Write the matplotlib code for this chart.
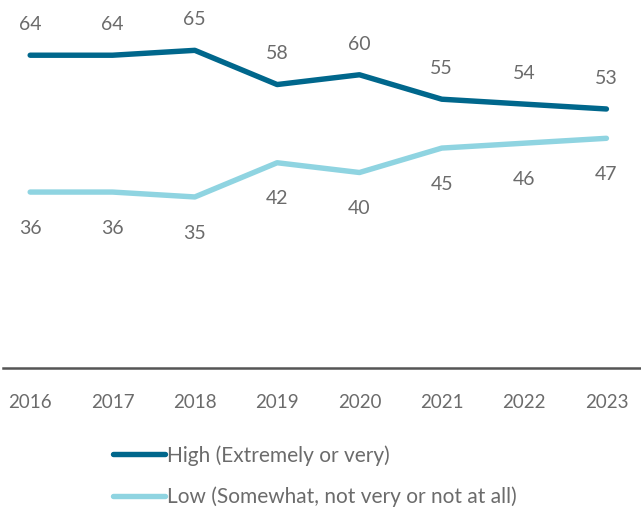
import matplotlib.pyplot as plt

years = [2016, 2017, 2018, 2019, 2020, 2021, 2022, 2023]
high = [64, 64, 65, 58, 60, 55, 54, 53]
low = [36, 36, 35, 42, 40, 45, 46, 47]
high_label = 'High (Extremely or very)'
low_label = 'Low (Somewhat, not very or not at all)'

dark = '#00678c'
light = '#8fd4e1'
grey = '#6b6b6b'

plt.rcParams['font.family'] = ['Lato', 'DejaVu Sans']

fig = plt.figure(figsize=(6.41, 5.13), dpi=100)
ax = fig.add_axes([3 / 641, 145 / 513, 638 / 641, 368 / 513])

ax.plot(years, high, color=dark, lw=3.9, solid_capstyle='round', label=high_label)
ax.plot(years, low, color=light, lw=3.9, solid_capstyle='round', label=low_label)

# value labels: above the high line, below the low line
for x, h, l in zip(years, high, low):
    ax.annotate(str(h), (x, h), xytext=(0, 22), textcoords='offset points',
                ha='center', va='center', fontsize=14, color=grey)
    ax.annotate(str(l), (x, l), xytext=(0, -26), textcoords='offset points',
                ha='center', va='center', fontsize=14, color=grey)

ax.set_xlim(2015.67, 2023.42)
ax.set_ylim(0, 75.3)
ax.set_xticks(years)
ax.set_xticklabels([str(y) for y in years], fontsize=13.5, color=grey)
ax.tick_params(axis='x', length=0, pad=19)
ax.set_yticks([])
for side in ['top', 'right', 'left']:
    ax.spines[side].set_visible(False)
ax.spines['bottom'].set_color('#555555')
ax.spines['bottom'].set_linewidth(1.8)

leg = fig.legend(loc='upper left', bbox_to_anchor=(113 / 641, 1 - 445 / 513),
                 frameon=False, fontsize=15, handlelength=2.5,
                 handletextpad=0.1, labelspacing=1.0, borderaxespad=0,
                 borderpad=0)
for t in leg.get_texts():
    t.set_color(grey)

fig.savefig('out.png', dpi=100)
